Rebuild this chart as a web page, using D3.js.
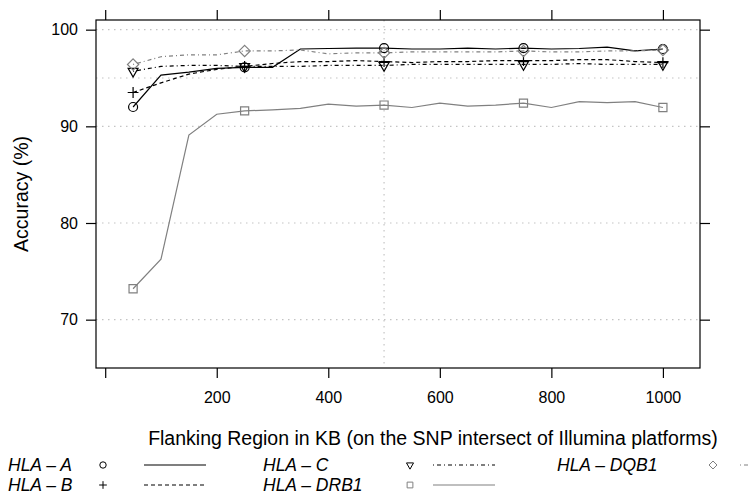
<!DOCTYPE html>
<html>
<head>
<meta charset="utf-8">
<script src="https://cdn.jsdelivr.net/npm/d3@7"></script>
<style>
  body { margin: 0; background: #fff; }
  text { font-family: "Liberation Sans", Arial, Helvetica, sans-serif; }
</style>
</head>
<body>
<svg id="chart" width="749" height="499"></svg>
<script>
// Flanking region sizes (KB) and accuracy (%) per HLA gene
var flankKb = [50, 100, 150, 200, 250, 300, 350, 400, 450, 500, 550, 600, 650, 700, 750, 800, 850, 900, 950, 1000];
var markerKb = [50, 250, 500, 750, 1000];

var hlaA    = [92.0, 95.3, 95.6, 96.0, 96.1, 96.1, 98.0, 98.05, 98.1, 98.1, 98.0, 98.0, 98.1, 98.0, 98.1, 98.0, 98.05, 98.2, 97.8, 98.0];
var hlaB    = [93.5, 94.5, 95.4, 95.9, 96.2, 96.5, 96.7, 96.7, 96.8, 96.7, 96.6, 96.7, 96.7, 96.8, 96.8, 96.8, 96.9, 96.9, 96.7, 96.6];
var hlaC    = [95.7, 96.2, 96.3, 96.3, 96.2, 96.2, 96.2, 96.3, 96.3, 96.3, 96.4, 96.4, 96.4, 96.4, 96.4, 96.4, 96.5, 96.4, 96.4, 96.4];
var hlaDQB1 = [96.4, 97.2, 97.4, 97.4, 97.8, 97.8, 97.9, 97.5, 97.6, 97.6, 97.7, 97.7, 97.7, 97.7, 97.8, 97.7, 97.7, 97.8, 97.8, 97.9];
var hlaDRB1 = [73.2, 76.25, 89.1, 91.25, 91.6, 91.7, 91.85, 92.3, 92.1, 92.2, 91.95, 92.4, 92.1, 92.2, 92.4, 91.95, 92.55, 92.45, 92.55, 91.95];

var xTicks = [0, 200, 400, 600, 800, 1000];
var yTicks = [70, 80, 90, 100];
var yGrid = [70, 80, 90, 95, 100];
var xGrid = [500];

var series = [
    { name: "A",    values: hlaA,    color: "#000", dash: null,      shape: "circle" },
    { name: "B",    values: hlaB,    color: "#000", dash: "4,3",     shape: "plus" },
    { name: "C",    values: hlaC,    color: "#000", dash: "1,3,4,3", shape: "triangle" },
    { name: "DRB1", values: hlaDRB1, color: "#808080", dash: null,   shape: "square" },
    { name: "DQB1", values: hlaDQB1, color: "#808080", dash: "1,3,4,3", shape: "diamond" }
];

// panel box in pixels
var box = { left: 96, right: 700, top: 20, bottom: 368 };

var svg = d3.select("#chart");

var x = d3.scaleLinear().domain([-16.5, 1066.5]).range([box.left, box.right]);
var y = d3.scaleLinear().domain([65, 101]).range([box.bottom, box.top]);

// marker path, s = half size
function markerPath(shape, s) {
    var p = d3.path();
    if (shape == "circle") {
        p.moveTo(s, 0);
        p.arc(0, 0, s, 0, 2 * Math.PI);
    } else if (shape == "plus") {
        p.moveTo(-s * 1.2, 0); p.lineTo(s * 1.2, 0);
        p.moveTo(0, -s * 1.2); p.lineTo(0, s * 1.2);
    } else if (shape == "triangle") {
        p.moveTo(-s * 1.1, -s * 0.65); p.lineTo(s * 1.1, -s * 0.65); p.lineTo(0, s * 1.3); p.closePath();
    } else if (shape == "square") {
        p.rect(-s * 0.9, -s * 0.9, s * 1.8, s * 1.8);
    } else if (shape == "diamond") {
        p.moveTo(0, -s * 1.25); p.lineTo(s * 1.25, 0); p.lineTo(0, s * 1.25); p.lineTo(-s * 1.25, 0); p.closePath();
    }
    return p.toString();
}

// grid lines
svg.append("g").selectAll("line").data(yGrid).join("line")
    .attr("x1", box.left).attr("x2", box.right)
    .attr("y1", d => y(d)).attr("y2", d => y(d))
    .attr("stroke", "#c4c4c4").attr("stroke-width", 1.2).attr("stroke-dasharray", "1.5,4.5");
svg.append("g").selectAll("line").data(xGrid).join("line")
    .attr("x1", d => x(d)).attr("x2", d => x(d))
    .attr("y1", box.top).attr("y2", box.bottom)
    .attr("stroke", "#c4c4c4").attr("stroke-width", 1.2).attr("stroke-dasharray", "1.5,4.5");

// lines
var line = d3.line().x((d, i) => x(flankKb[i])).y(d => y(d));
series.forEach(function (s) {
    svg.append("path")
        .attr("d", line(s.values))
        .attr("fill", "none")
        .attr("stroke", s.color)
        .attr("stroke-width", 1.2)
        .attr("stroke-dasharray", s.dash);
});

// markers
series.forEach(function (s) {
    svg.append("g").selectAll("path")
        .data(markerKb)
        .join("path")
        .attr("transform", d => "translate(" + x(d) + "," + y(s.values[flankKb.indexOf(d)]) + ")")
        .attr("d", markerPath(s.shape, 4.5))
        .attr("fill", "none")
        .attr("stroke", s.color)
        .attr("stroke-width", 1.2);
});

// panel box
svg.append("rect")
    .attr("x", box.left).attr("y", box.top)
    .attr("width", box.right - box.left).attr("height", box.bottom - box.top)
    .attr("fill", "none").attr("stroke", "#000").attr("stroke-width", 1.2);

// axes: ticks on all four sides, labels left and bottom
var bottomAxis = d3.axisBottom(x).tickValues(xTicks).tickSize(10).tickPadding(14)
    .tickFormat(d => d == 0 ? "" : d);
var topAxis = d3.axisTop(x).tickValues(xTicks).tickSize(10).tickFormat("");
var leftAxis = d3.axisLeft(y).tickValues(yTicks).tickSize(10).tickPadding(8);
var rightAxis = d3.axisRight(y).tickValues(yTicks).tickSize(10).tickFormat("");

function styleAxis(g) {
    g.select(".domain").remove();
    g.selectAll(".tick line").attr("stroke", "#000").attr("stroke-width", 1.2);
    g.selectAll(".tick text").attr("font-size", 16).attr("fill", "#000")
        .style("font-family", "'Liberation Sans', Arial, sans-serif");
}

svg.append("g").attr("transform", "translate(0," + box.bottom + ")").call(bottomAxis).call(styleAxis);
svg.append("g").attr("transform", "translate(0," + box.top + ")").call(topAxis).call(styleAxis);
svg.append("g").attr("transform", "translate(" + box.left + ",0)").call(leftAxis).call(styleAxis);
svg.append("g").attr("transform", "translate(" + box.right + ",0)").call(rightAxis).call(styleAxis);

// axis titles
svg.append("text")
    .attr("x", 433).attr("y", 445)
    .attr("text-anchor", "middle").attr("font-size", 19.5)
    .text("Flanking Region in KB (on the SNP intersect of Illumina platforms)");
svg.append("text")
    .attr("transform", "translate(28," + (box.top + box.bottom) / 2 + ") rotate(-90)")
    .attr("text-anchor", "middle").attr("font-size", 19.5)
    .text("Accuracy (%)");

// legend, 3 columns
var legendPos = [
    { tx: 8,   mx: 103, lx: 144, row: 0 },
    { tx: 8,   mx: 103, lx: 144, row: 1 },
    { tx: 263, mx: 410, lx: 433, row: 0 },
    { tx: 263, mx: 410, lx: 433, row: 1 },
    { tx: 557, mx: 713, lx: 740, row: 0 }
];
var legendY = [471, 491];

var legend = svg.append("g");
series.forEach(function (s, i) {
    var pos = legendPos[i];
    var by = legendY[pos.row];
    legend.append("text")
        .attr("x", pos.tx).attr("y", by)
        .attr("font-size", 17.5).attr("font-style", "italic")
        .text("HLA \u2013 " + s.name);
    legend.append("path")
        .attr("transform", "translate(" + pos.mx + "," + (by - 6) + ")")
        .attr("d", markerPath(s.shape, 3.2))
        .attr("fill", "none").attr("stroke", s.color).attr("stroke-width", 1);
    legend.append("line")
        .attr("x1", pos.lx).attr("x2", pos.lx + 62)
        .attr("y1", by - 6).attr("y2", by - 6)
        .attr("stroke", s.color).attr("stroke-width", 1.2)
        .attr("stroke-dasharray", s.dash);
});
</script>
</body>
</html>
